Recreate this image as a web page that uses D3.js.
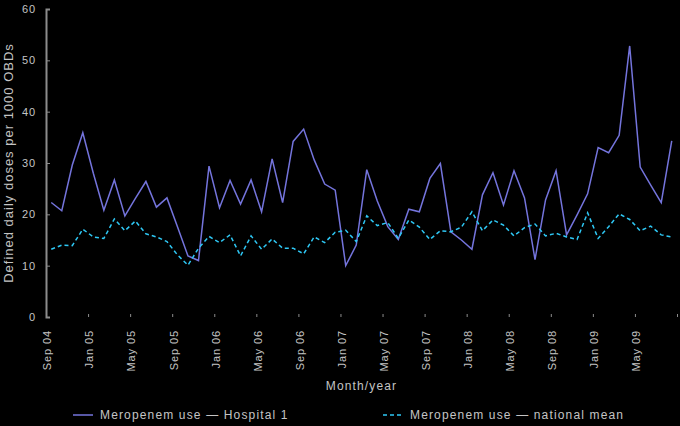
<!DOCTYPE html>
<html>
<head>
<meta charset="utf-8">
<script src="https://cdn.jsdelivr.net/npm/d3@7"></script>
<style>
  html, body { margin: 0; padding: 0; background: #000; }
  svg { display: block; font-family: "Liberation Sans", Arial, sans-serif; }
  .tick text { fill: #c4c4c4; font-size: 11px; letter-spacing: 0.9px; }
  .label { fill: #c4c4c4; font-size: 12px; letter-spacing: 1.15px; }
</style>
</head>
<body>
<div id="chart"></div>
<script>
  // months Sep 04 .. Aug 09
  const MONTHS = ["Jan", "Feb", "Mar", "Apr", "May", "Jun", "Jul", "Aug", "Sep", "Oct", "Nov", "Dec"];
  const months = [];
  for (let i = 0; i < 60; i++) {
    const m = (8 + i) % 12;
    const y = 4 + Math.floor((8 + i) / 12);
    months.push(`${MONTHS[m]} 0${y}`);
  }
  const axisMonths = months.concat(["Sep 09"]);

  const hospital = [
    22.3, 20.7, 29.6, 35.9, 28.0, 20.8, 26.7, 19.7, 23.1, 26.4,
    21.4, 23.2, 17.6, 11.9, 11.0, 29.4, 21.3, 26.6, 22.0, 26.7,
    20.5, 30.8, 22.3, 34.2, 36.6, 30.6, 25.9, 24.7, 10.0, 14.0,
    28.7, 22.6, 17.6, 15.1, 21.0, 20.5, 27.0, 29.9, 16.6, 15.0,
    13.2, 23.8, 28.1, 21.8, 28.5, 23.2, 11.2, 22.8, 28.5, 16.0,
    19.9, 24.0, 33.0, 32.0, 35.4, 52.8, 29.2, 25.7, 22.3, 34.3
  ];
  const national = [
    13.2, 14.0, 13.9, 17.1, 15.6, 15.3, 19.1, 16.8, 18.7, 16.2,
    15.6, 14.7, 12.1, 10.1, 13.4, 15.7, 14.5, 16.0, 11.9, 15.8,
    13.2, 15.2, 13.4, 13.4, 12.3, 15.6, 14.5, 16.5, 16.9, 14.7,
    19.7, 17.8, 18.4, 15.3, 18.9, 17.5, 15.1, 16.8, 16.6, 17.5,
    20.5, 16.8, 18.9, 17.9, 15.8, 17.4, 18.1, 15.8, 16.3, 15.6,
    15.1, 20.3, 15.3, 17.6, 20.1, 19.0, 16.8, 17.7, 16.0, 15.6
  ];
  const yTicks = [0, 10, 20, 30, 40, 50, 60];

  const series = [
    { name: "Meropenem use \u2014 Hospital 1", values: hospital, color: "#7474dc", dash: null },
    { name: "Meropenem use \u2014 national mean", values: national, color: "#2ec8f5", dash: "4,3" },
  ];

  const W = 680, H = 426;
  const margin = { top: 9, right: 3, bottom: 109, left: 46 };
  const width = W - margin.left - margin.right;
  const height = H - margin.top - margin.bottom;

  const svg = d3.select("#chart").append("svg")
    .attr("width", W)
    .attr("height", H)
    .style("background", "#000");

  const g = svg.append("g")
    .attr("transform", `translate(${margin.left}, ${margin.top})`);

  const x = d3.scaleBand().domain(months).range([0, width]);
  // month boundaries, one extra for Sep 09
  const xEdge = d3.scalePoint().domain(axisMonths).range([0, x.bandwidth() * 60]);
  const y = d3.scaleLinear().domain([0, 60]).range([height, 0]);

  // y axis
  const yAxis = g.append("g")
    .call(d3.axisRight(y).tickValues(yTicks).tickSize(4));
  yAxis.select(".domain").attr("stroke", "#8c8c8c").attr("stroke-width", 2);
  yAxis.selectAll(".tick line").attr("stroke", "#8c8c8c");
  yAxis.selectAll(".tick text").attr("text-anchor", "end").attr("x", -10);

  // x axis
  const xAxis = g.append("g")
    .attr("transform", `translate(0, ${height})`)
    .call(d3.axisBottom(xEdge)
      .tickValues(axisMonths.filter((d, i) => i % 4 === 0))
      .tickSize(-3)
      .tickFormat((d) => (d === "Sep 09" ? "" : d)));
  xAxis.select(".domain").remove();
  xAxis.selectAll(".tick line").attr("stroke", "#8c8c8c");
  xAxis.selectAll(".tick text")
    .attr("transform", "rotate(-90)")
    .attr("text-anchor", "end")
    .attr("x", -13)
    .attr("y", 1)
    .attr("dy", "0.35em");

  const line = (vals) => d3.line()
    .x((d, i) => x(months[i]) + x.bandwidth() / 2)
    .y((d) => y(d))(vals);

  series.forEach((s) => {
    g.append("path")
      .attr("d", line(s.values))
      .attr("fill", "none")
      .attr("stroke", s.color)
      .attr("stroke-width", 1.5)
      .attr("stroke-dasharray", s.dash);
  });

  // axis titles
  g.append("text")
    .attr("class", "label")
    .attr("text-anchor", "middle")
    .attr("x", width / 2)
    .attr("y", height + 73)
    .text("Month/year");

  svg.append("text")
    .attr("class", "label")
    .attr("text-anchor", "middle")
    .style("font-size", "13px")
    .style("letter-spacing", "1px")
    .attr("transform", `translate(13, ${margin.top + height / 2}) rotate(-90)`)
    .text("Defined daily doses per 1000 OBDs");

  // legend
  const legendX = [73, 383];
  series.forEach((s, i) => {
    const lg = svg.append("g").attr("transform", `translate(${legendX[i]}, 415)`);
    lg.append("line")
      .attr("x1", 0).attr("x2", 20)
      .attr("stroke", s.color)
      .attr("stroke-width", 1.5)
      .attr("stroke-dasharray", s.dash);
    lg.append("text")
      .attr("class", "label")
      .attr("x", 27)
      .attr("dy", "0.35em")
      .text(s.name);
  });
</script>
</body>
</html>
